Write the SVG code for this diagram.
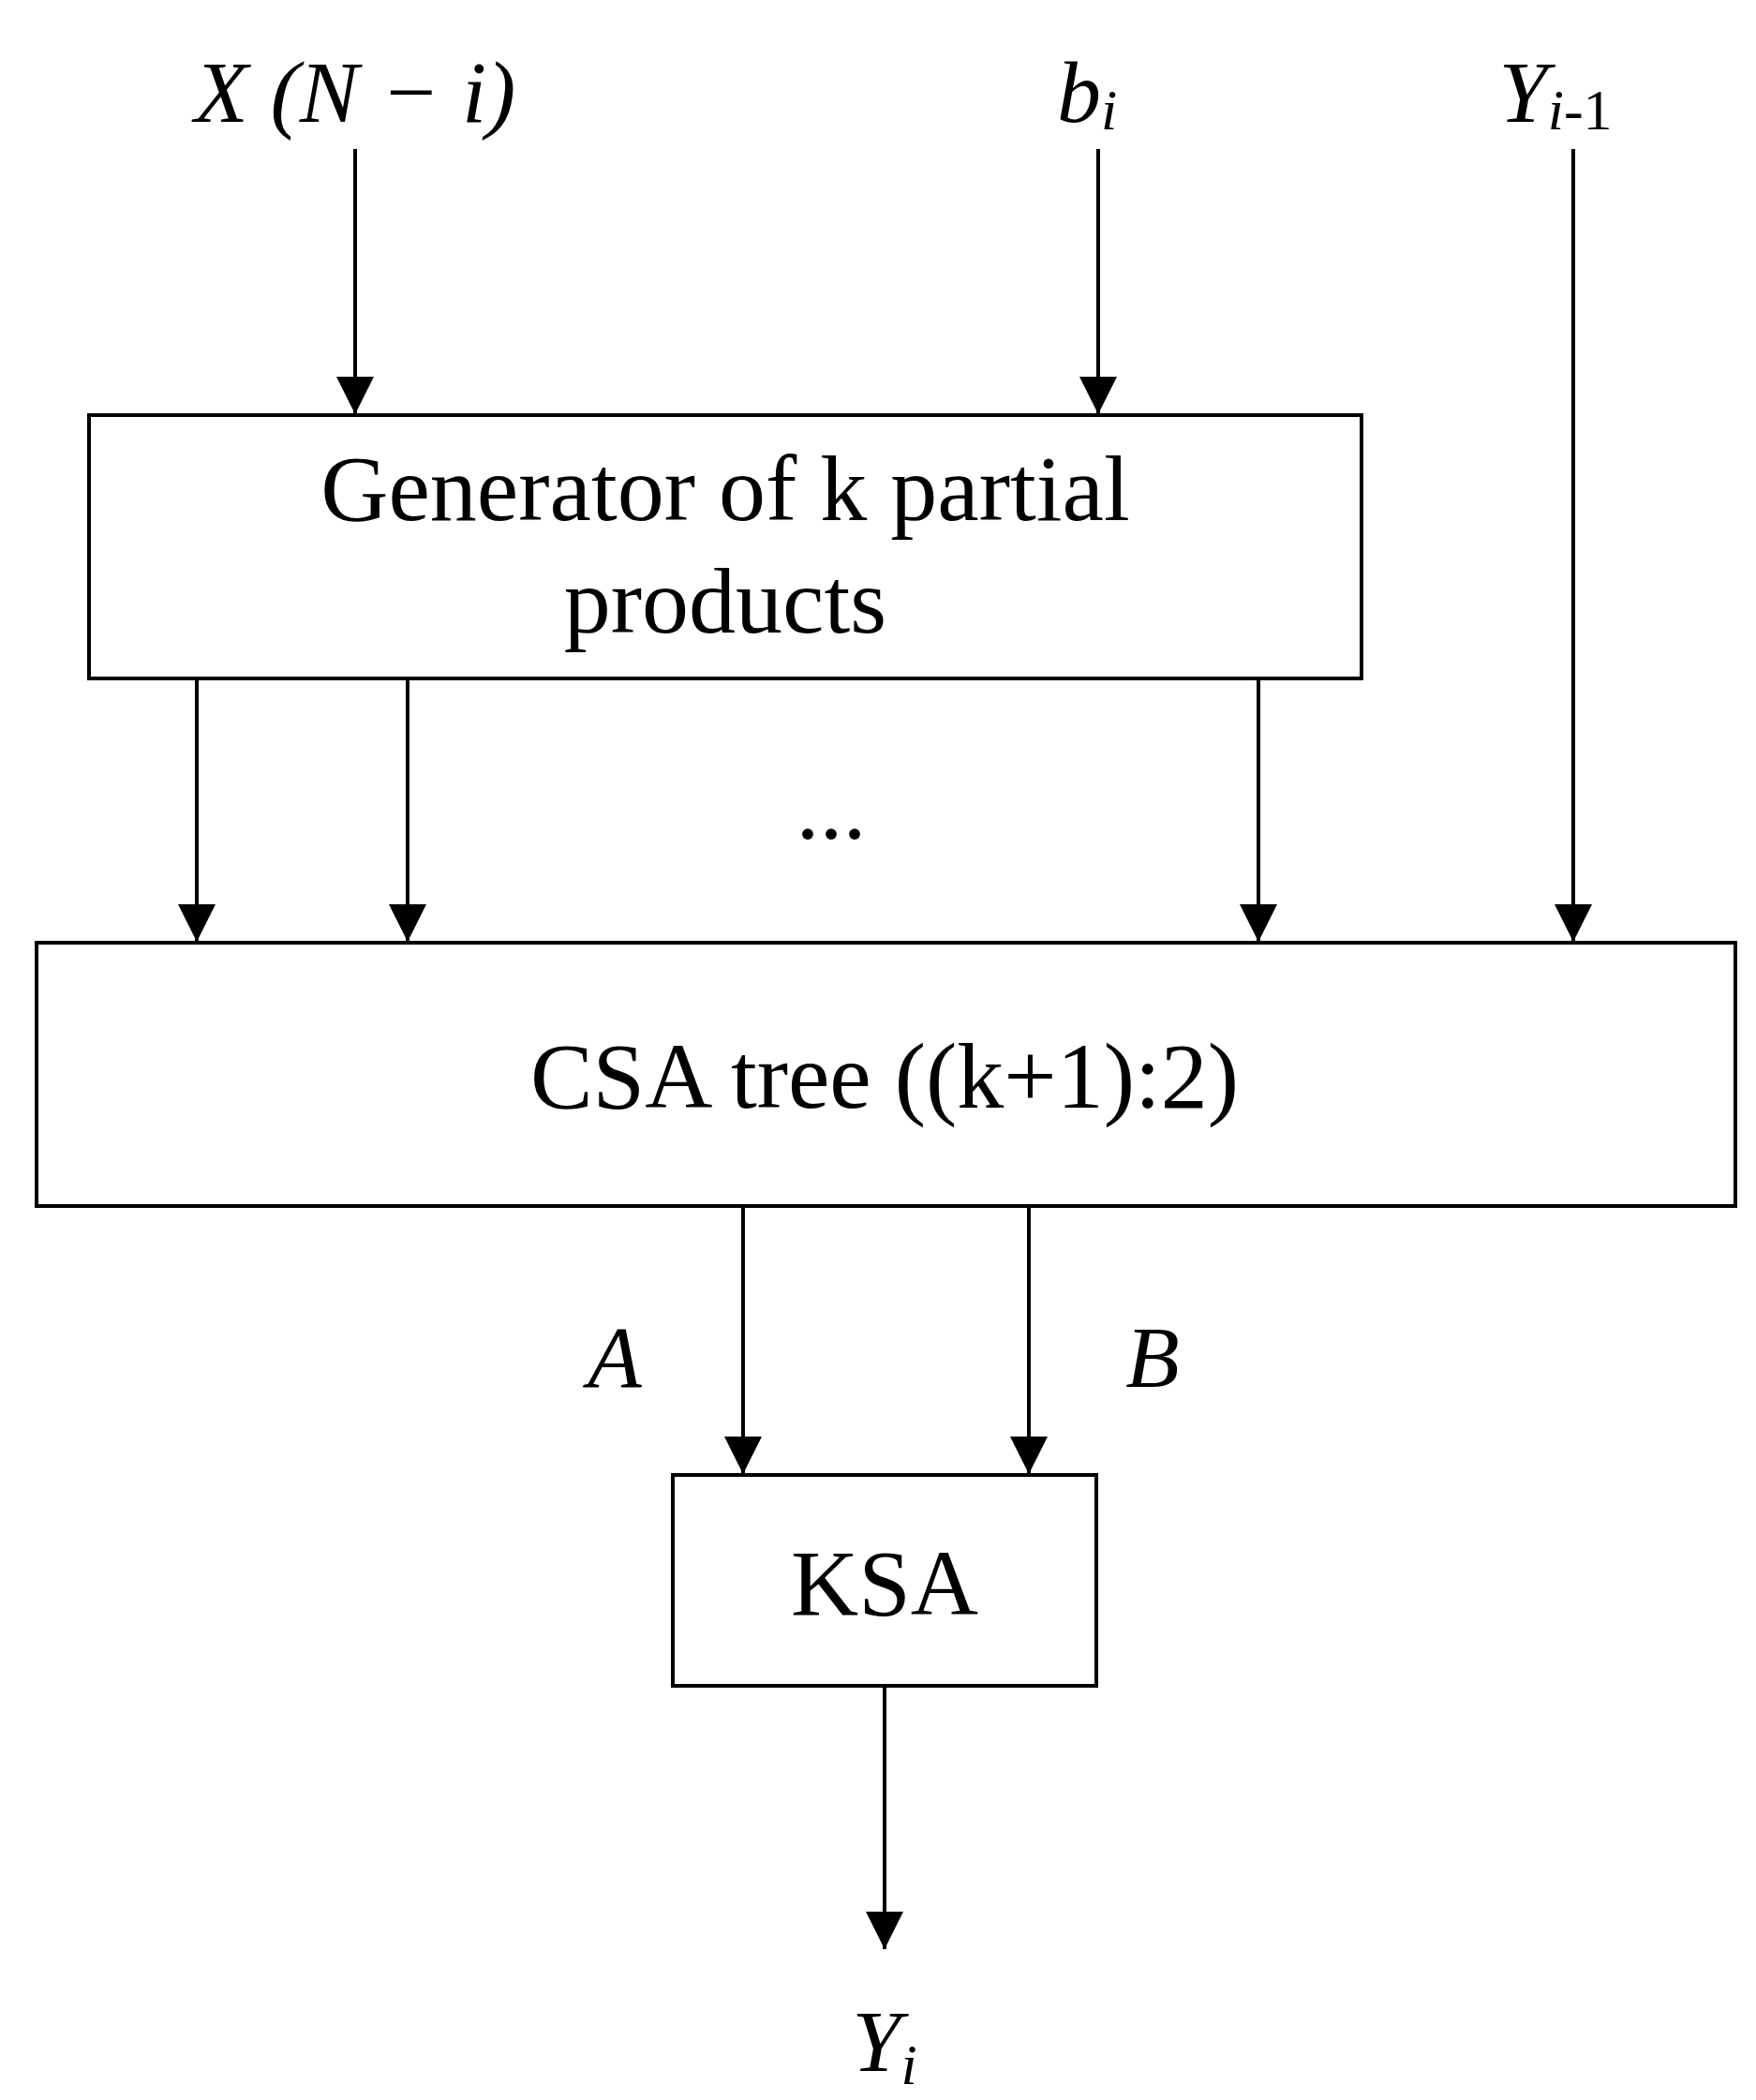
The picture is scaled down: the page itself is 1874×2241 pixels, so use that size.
<svg xmlns="http://www.w3.org/2000/svg" width="1874" height="2241" viewBox="0 0 1874 2241">
<style>
.b{fill:#fff;stroke:#000;stroke-width:4}
.c{stroke:#000;stroke-width:4;fill:none;marker-end:url(#ah)}
text{font-family:"Liberation Serif",serif;fill:#000}
.t{font-size:100px;text-anchor:middle}
.m{font-size:94px;font-style:italic}
</style>
<defs><marker id="ah" markerUnits="userSpaceOnUse" markerWidth="40" markerHeight="50" refX="40" refY="20" orient="auto" viewBox="0 0 40 40"><path d="M0,0 L40,20 L0,40 Z" fill="#000"/></marker></defs>
<rect width="1874" height="2241" fill="#fff"/>
<g id="connectors">
<line class="c" x1="379" y1="159" x2="379" y2="442"/>
<line class="c" x1="1172" y1="159" x2="1172" y2="442"/>
<line class="c" x1="1679" y1="159" x2="1679" y2="1005"/>
<line class="c" x1="210" y1="726" x2="210" y2="1005"/>
<line class="c" x1="435" y1="726" x2="435" y2="1005"/>
<line class="c" x1="1343" y1="726" x2="1343" y2="1005"/>
<line class="c" x1="793" y1="1289" x2="793" y2="1573"/>
<line class="c" x1="1098" y1="1289" x2="1098" y2="1573"/>
<line class="c" x1="944" y1="1801" x2="944" y2="2080"/>
</g>
<g id="gen"><rect class="b" x="95" y="443" width="1358" height="281"/>
<text class="t" x="774" y="555">Generator of k partial</text><text class="t" x="774" y="675">products</text></g>
<g id="csa"><rect class="b" x="39" y="1006" width="1813" height="281"/>
<text class="t" x="944" y="1182">CSA tree ((k+1):2)</text></g>
<g id="ksa"><rect class="b" x="718" y="1574" width="452" height="225"/>
<text class="t" x="944" y="1723">KSA</text></g>
<g id="labels">
<text class="m" x="379" y="130" text-anchor="middle" font-style="normal"><tspan font-style="italic">X</tspan> (<tspan font-style="italic">N</tspan> − <tspan font-style="italic">i</tspan>)</text>
<text class="m" x="1160" y="130" text-anchor="middle">b<tspan font-size="62" dy="8">i</tspan></text>
<text class="m" x="1660" y="130" text-anchor="middle">Y<tspan font-size="62" dy="8">i</tspan><tspan font-size="62" font-style="normal">-1</tspan></text>
<text class="t" x="887" y="895">...</text>
<text class="m" x="656" y="1480" text-anchor="middle">A</text>
<text class="m" x="1230" y="1480" text-anchor="middle">B</text>
<text class="m" x="944" y="2210" text-anchor="middle">Y<tspan font-size="62" dy="14">i</tspan></text>
</g>
</svg>
